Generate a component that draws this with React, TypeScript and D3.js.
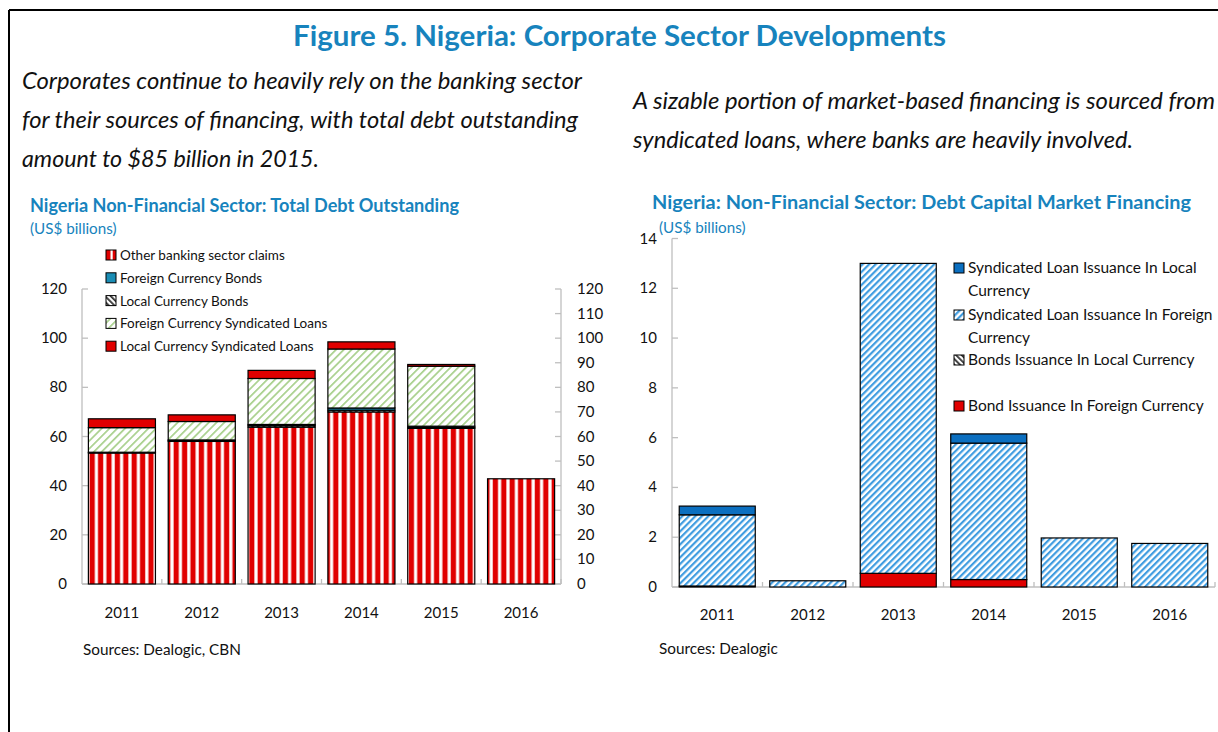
import React from 'react';
import * as d3 from 'd3';

const years = ['2011', '2012', '2013', '2014', '2015', '2016'];

// Left chart: Total Debt Outstanding (US$ billions)
const otherBankingClaims = [53.3, 58.0, 63.8, 70.0, 63.3, 42.8];
const localCurrencyBonds = [0.3, 0.4, 0.6, 0.7, 0.4, 0];
const foreignCurrencyBonds = [0, 0.2, 0.5, 0.9, 0.5, 0];
const foreignCurrencySyndLoans = [10.0, 7.5, 18.7, 24.0, 24.4, 0];
const localCurrencySyndLoans = [3.6, 2.7, 3.3, 2.9, 0.7, 0];
const leftTicks = [0, 20, 40, 60, 80, 100, 120];
const leftRightTicks = [0, 10, 20, 30, 40, 50, 60, 70, 80, 90, 100, 110, 120];

// Right chart: Debt Capital Market Financing (US$ billions)
const bondIssuanceForeign = [0, 0, 0.55, 0.3, 0, 0];
const bondsIssuanceLocal = [0.04, 0, 0, 0, 0, 0];
const syndLoanForeign = [2.86, 0.25, 12.45, 5.48, 1.97, 1.75];
const syndLoanLocal = [0.35, 0, 0, 0.37, 0, 0];
const rightTicks = [0, 2, 4, 6, 8, 10, 12, 14];

const FONT = 'Lato, "Noto Sans", sans-serif';
const BLUE_TITLE = '#1783bd';
const AXIS = '#bfbfbf';

type Seg = { name: string; values: number[]; fill: string; legendFill: string };

const leftSeries: Seg[] = [
  { name: 'Other banking sector claims', values: otherBankingClaims, fill: 'url(#vstripe)', legendFill: 'url(#vstripeL)' },
  { name: 'Local Currency Bonds', values: localCurrencyBonds, fill: 'url(#blackhatch)', legendFill: 'url(#blackhatch)' },
  { name: 'Foreign Currency Bonds', values: foreignCurrencyBonds, fill: '#1a8db5', legendFill: '#1a8db5' },
  { name: 'Foreign Currency Syndicated Loans', values: foreignCurrencySyndLoans, fill: 'url(#greenhatch)', legendFill: 'url(#greenhatch)' },
  { name: 'Local Currency Syndicated Loans', values: localCurrencySyndLoans, fill: '#e00000', legendFill: '#e00000' },
];
const leftLegendOrder = [0, 2, 1, 3, 4];

const rightSeries: Seg[] = [
  { name: 'Bond Issuance In Foreign Currency', values: bondIssuanceForeign, fill: '#e00000', legendFill: '#e00000' },
  { name: 'Bonds Issuance In Local Currency', values: bondsIssuanceLocal, fill: 'url(#blackhatch)', legendFill: 'url(#blackhatch)' },
  { name: 'Syndicated Loan Issuance In Foreign Currency', values: syndLoanForeign, fill: 'url(#bluehatch)', legendFill: 'url(#bluehatch)' },
  { name: 'Syndicated Loan Issuance In Local Currency', values: syndLoanLocal, fill: '#0b6fc0', legendFill: '#0b6fc0' },
];

function stackData(series: Seg[]) {
  const rows = years.map((y, i) => {
    const r: any = { year: y };
    series.forEach((s) => (r[s.name] = s.values[i]));
    return r;
  });
  return d3.stack<any>().keys(series.map((s) => s.name))(rows);
}

export default function App() {
  const lx = d3.scaleBand<string>().domain(years).range([82, 561]).paddingInner(0.16).paddingOuter(0.08);
  const ly = d3.scaleLinear().domain([0, 120]).range([584, 289]);
  const lStack = stackData(leftSeries);

  const rx = d3.scaleBand<string>().domain(years).range([672, 1215]).paddingInner(0.16).paddingOuter(0.08);
  const ry = d3.scaleLinear().domain([0, 14]).range([587, 238.5]);
  const rStack = stackData(rightSeries);

  const lStep = lx.step();
  const rStep = rx.step();

  return (
    <svg width={1218} height={732} style={{ position: 'absolute', left: 0, top: 0, background: '#fff' }} fontFamily={FONT}>
      <defs>
        <pattern id="vstripe" patternUnits="userSpaceOnUse" width={8.4} height={10} x={88}>
          <rect width={8.4} height={10} fill="#fff" />
          <rect x={1.6} width={5.2} height={10} fill="#e00000" />
        </pattern>
        <pattern id="vstripeL" patternUnits="userSpaceOnUse" width={10} height={10} x={106}>
          <rect width={10} height={10} fill="#e00000" />
          <rect x={4.5} width={2.2} height={10} fill="#fff" />
        </pattern>
        <pattern id="greenhatch" patternUnits="userSpaceOnUse" width={5.5} height={5.5} patternTransform="rotate(45)">
          <rect width={5.5} height={5.5} fill="#fff" />
          <rect width={1.7} height={5.5} fill="#a8d08c" />
        </pattern>
        <pattern id="bluehatch" patternUnits="userSpaceOnUse" width={4.6} height={4.6} patternTransform="rotate(45)">
          <rect width={4.6} height={4.6} fill="#fff" />
          <rect width={2.2} height={4.6} fill="#3f9ce0" />
        </pattern>
        <pattern id="blackhatch" patternUnits="userSpaceOnUse" width={4} height={4} patternTransform="rotate(-45)">
          <rect width={4} height={4} fill="#fff" />
          <rect width={1.8} height={4} fill="#333" />
        </pattern>
      </defs>

      {/* frame */}
      <line x1={9} y1={10} x2={1218} y2={10} stroke="#000" strokeWidth={2} />
      <line x1={9} y1={10} x2={9} y2={732} stroke="#000" strokeWidth={2} />

      {/* main title */}
      <text x={293} y={46} fontSize={28} fontWeight="bold" fill={BLUE_TITLE} textLength={653} lengthAdjust="spacingAndGlyphs">
        Figure 5. Nigeria: Corporate Sector Developments
      </text>

      {/* subtitles */}
      <g fontStyle="italic" fontSize={22.5} fill="#111">
        <text x={22} y={89} textLength={560} lengthAdjust="spacingAndGlyphs">Corporates continue to heavily rely on the banking sector</text>
        <text x={22} y={128} textLength={556} lengthAdjust="spacingAndGlyphs">for their sources of financing, with total debt outstanding</text>
        <text x={22} y={167} textLength={297} lengthAdjust="spacingAndGlyphs">amount to $85 billion in 2015.</text>
        <text x={633} y={109} textLength={582} lengthAdjust="spacingAndGlyphs">A sizable portion of market-based financing is sourced from</text>
        <text x={633} y={148} textLength={500} lengthAdjust="spacingAndGlyphs">syndicated loans, where banks are heavily involved.</text>
      </g>

      {/* left chart title */}
      <text x={30} y={212} fontSize={18} fontWeight="bold" fill={BLUE_TITLE} textLength={429} lengthAdjust="spacingAndGlyphs">
        Nigeria Non-Financial Sector: Total Debt Outstanding
      </text>
      <text x={30} y={234} fontSize={15.2} fill={BLUE_TITLE}>(US$ billions)</text>

      {/* left chart axes */}
      <g stroke={AXIS} strokeWidth={1.3} fill="none">
        <line x1={82} y1={ly(120)} x2={82} y2={ly(0)} />
        <line x1={561} y1={ly(120)} x2={561} y2={ly(0)} />
        <line x1={82} y1={ly(0)} x2={561} y2={ly(0)} />
        {leftTicks.map((t) => (
          <line key={'lt' + t} x1={82} x2={88} y1={ly(t)} y2={ly(t)} />
        ))}
        {leftRightTicks.map((t) => (
          <line key={'rt' + t} x1={555} x2={561} y1={ly(t)} y2={ly(t)} />
        ))}
        {years.map((y, i) => (
          <line key={'xt' + y} x1={82 + lStep * (i + 1)} x2={82 + lStep * (i + 1)} y1={ly(0)} y2={ly(0) - 5} />
        ))}
      </g>
      <g fontSize={15} fill="#111">
        {leftTicks.map((t) => (
          <text key={'ll' + t} x={67} y={ly(t) + 5} textAnchor="end">{t}</text>
        ))}
        {leftRightTicks.map((t) => (
          <text key={'lr' + t} x={577} y={ly(t) + 5}>{t}</text>
        ))}
        {years.map((y) => (
          <text key={'lx' + y} x={(lx(y) as number) + lx.bandwidth() / 2} y={618} textAnchor="middle">{y}</text>
        ))}
      </g>

      {/* left bars */}
      {lStack.map((layer, li) => (
        <g key={'ls' + li}>
          {layer.map((d, i) => {
            const h = ly(d[0]) - ly(d[1]);
            if (h <= 0.01) return null;
            return (
              <rect key={i} x={lx(years[i])} y={ly(d[1])} width={lx.bandwidth()} height={h}
                fill={leftSeries[li].fill} stroke="#000" strokeWidth={1.2} />
            );
          })}
        </g>
      ))}

      {/* left legend */}
      <g fontSize={13.5} fill="#111">
        {leftLegendOrder.map((si, k) => {
          const s = leftSeries[si];
          const yy = 255 + k * 22.8;
          return (
            <g key={'lg' + k}>
              <rect x={106} y={yy - 5} width={10} height={10} fill={s.legendFill} stroke="#000" strokeWidth={1} />
              <text x={120} y={yy + 5}>{s.name}</text>
            </g>
          );
        })}
      </g>

      <text x={83} y={655} fontSize={15.3} fill="#111">Sources: Dealogic, CBN</text>

      {/* right chart title */}
      <text x={652} y={209} fontSize={18.5} fontWeight="bold" fill={BLUE_TITLE} textLength={539} lengthAdjust="spacingAndGlyphs">
        Nigeria: Non-Financial Sector: Debt Capital Market Financing
      </text>
      <text x={659} y={233} fontSize={15.2} fill={BLUE_TITLE}>(US$ billions)</text>

      {/* right chart axes */}
      <g stroke={AXIS} strokeWidth={1.3} fill="none">
        <line x1={672} y1={ry(14)} x2={672} y2={ry(0)} />
        <line x1={672} y1={ry(0)} x2={1215} y2={ry(0)} />
        {rightTicks.map((t) => (
          <line key={'rtk' + t} x1={672} x2={678} y1={ry(t)} y2={ry(t)} />
        ))}
        {years.map((y, i) => (
          <line key={'rxt' + y} x1={672 + rStep * (i + 1)} x2={672 + rStep * (i + 1)} y1={ry(0)} y2={ry(0) - 5} />
        ))}
      </g>
      <g fontSize={15} fill="#111">
        {rightTicks.map((t) => (
          <text key={'rl' + t} x={657} y={ry(t) + 5} textAnchor="end">{t}</text>
        ))}
        {years.map((y) => (
          <text key={'rx' + y} x={(rx(y) as number) + rx.bandwidth() / 2} y={620} textAnchor="middle">{y}</text>
        ))}
      </g>

      {/* right bars */}
      {rStack.map((layer, li) => (
        <g key={'rs' + li}>
          {layer.map((d, i) => {
            const h = ry(d[0]) - ry(d[1]);
            if (h <= 0.01) return null;
            return (
              <rect key={i} x={rx(years[i])} y={ry(d[1])} width={rx.bandwidth()} height={h}
                fill={rightSeries[li].fill} stroke="#000" strokeWidth={1.2} />
            );
          })}
        </g>
      ))}

      {/* right legend */}
      <g fontSize={15.5} fill="#111">
        {[
          { s: rightSeries[3], lines: ['Syndicated Loan Issuance In Local', 'Currency'], y: 268 },
          { s: rightSeries[2], lines: ['Syndicated Loan Issuance In Foreign', 'Currency'], y: 315 },
          { s: rightSeries[1], lines: ['Bonds Issuance In Local Currency'], y: 360 },
          { s: rightSeries[0], lines: ['Bond Issuance In Foreign Currency'], y: 406 },
        ].map((e, k) => (
          <g key={'rg' + k}>
            <rect x={954} y={e.y - 5} width={10} height={10} fill={e.s.legendFill} stroke="#000" strokeWidth={1} />
            {e.lines.map((ln, j) => (
              <text key={j} x={968} y={e.y + 5 + j * 23}>{ln}</text>
            ))}
          </g>
        ))}
      </g>

      <text x={659} y={654} fontSize={15.3} fill="#111">Sources: Dealogic</text>
    </svg>
  );
}
